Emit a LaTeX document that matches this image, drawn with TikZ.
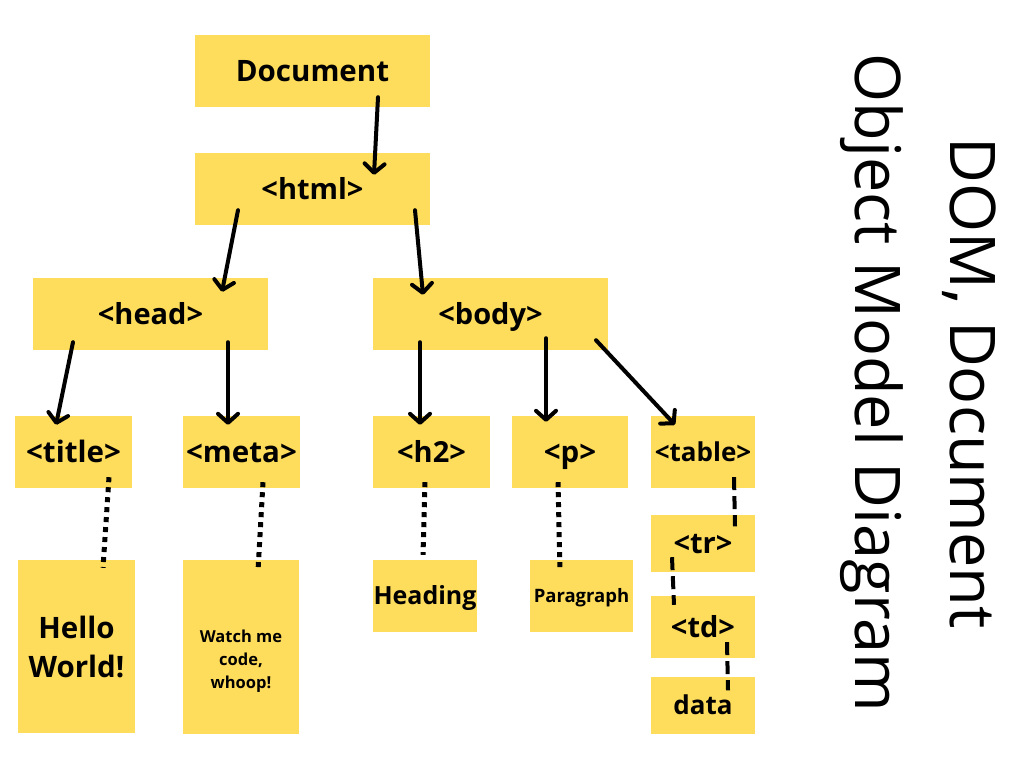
\documentclass[tikz,border=0pt]{standalone}
\usepackage{fontspec}
\setmainfont{Open Sans}
\usetikzlibrary{arrows.meta}
\definecolor{boxyellow}{RGB}{255,221,92}
\tikzset{
  plainbox/.style={fill=boxyellow, draw=none, inner sep=0pt, align=center},
  fs/.style={font=\bfseries\fontsize{#1}{#1}\selectfont},
  th/.style={text height=#1pt, text depth=0pt},
  box/.style={plainbox, fs=29.5, th=21},
  arr/.style={line width=4pt, line cap=round, -{Straight Barb[length=9pt,width=20pt,line cap=round,line join=round]}},
  dots/.style={line width=5pt, dash pattern=on 5pt off 5pt},
  dashes/.style={line width=4pt, dash pattern=on 13pt off 6pt},
}
\begin{document}
\begin{tikzpicture}[x=1pt,y=-1pt]
\useasboundingbox (0,0) rectangle (1024,768);
\node[box, minimum width=235pt, minimum height=72pt] (doc) at (312.5,71) {Document};
\node[box, fs=29, th=20.7, minimum width=235pt, minimum height=72pt] (html) at (312.5,189) {<html>};
\node[box, fs=29, th=20.7, minimum width=235pt, minimum height=72pt] (head) at (150.5,314) {<head>};
\node[box, fs=29, th=20.7, minimum width=235pt, minimum height=72pt] (body) at (490.5,314) {<body>};
\node[box, minimum width=117pt, minimum height=72pt] (title) at (73.5,452) {<title>};
\node[box, minimum width=117pt, minimum height=72pt] (meta) at (241.5,452) {<meta>};
\node[box, fs=29, th=20.7, minimum width=117pt, minimum height=72pt] (h2) at (431.5,452) {<h2>};
\node[box, minimum width=116pt, minimum height=72pt] (p) at (570,452) {<p>};
\node[box, fs=26, th=18.6, minimum width=104pt, minimum height=72pt] (table) at (703,452) {<table>};
\node[box, fs=29, th=20.7, minimum width=104pt, minimum height=57pt] (tr) at (703,543) {<tr>};
\node[box, fs=29, th=20.7, minimum width=104pt, minimum height=62pt] (td) at (703,627) {<td>};
\node[box, fs=26, th=18.6, minimum width=104pt, minimum height=57pt] (data) at (703,705) {data};
\node[plainbox, font=\bfseries\fontsize{29.5}{39}\selectfont, minimum width=117pt, minimum height=173pt] (hello) at (76.5,646.5) {Hello\\World!};
\node[plainbox, minimum width=116pt, minimum height=174pt,
  label={[font=\bfseries\fontsize{16.5}{23}\selectfont, align=center, yshift=-14pt]center:Watch me\\code,\\whoop!}] (watch) at (241,647) {};
\node[box, fs=25, th=17.9, minimum width=104pt, minimum height=72pt] (heading) at (425,596) {Heading};
\node[box, fs=18.5, th=13.2, minimum width=103pt, minimum height=72pt] (para) at (581.5,596) {Paragraph};

\node[rotate=-90, align=center, font=\fontsize{63}{95}\selectfont] (ttl) at (918,383) {DOM, Document\\Object Model Diagram};

\draw[arr] ([shift={(65.5,-10)}]doc.south) -- ([shift={(61.5,22)}]html.north);
\draw[arr] ([shift={(-74.5,-15)}]html.south) -- ([shift={(71.5,14)}]head.north);
\draw[arr] ([shift={(102.5,-15)}]html.south) -- ([shift={(-67.5,17)}]body.north);
\draw[arr] ([shift={(-77.5,-8)}]head.south) -- ([shift={(-17.5,9)}]title.north);
\draw[arr] ([shift={(77.5,-8)}]head.south) -- ([shift={(-13.5,9)}]meta.north);
\draw[arr] ([shift={(-70.5,-8)}]body.south) -- ([shift={(-11.5,9)}]h2.north);
\draw[arr] ([shift={(55.5,-12)}]body.south) -- ([shift={(-24,6)}]p.north);
\draw[arr] ([shift={(105.5,-10)}]body.south) -- ([shift={(-28,9)}]table.north);

\draw[dots] ([shift={(35.5,-11)}]title.south) -- ([shift={(26.5,8)}]hello.north);
\draw[dots] ([shift={(21.5,-6)}]meta.south) -- ([shift={(17,11)}]watch.north);
\draw[dots] ([shift={(-6.5,-6)}]h2.south) -- ([shift={(-2,-5)}]heading.north);
\draw[dots] ([shift={(-12,-6)}]p.south) -- ([shift={(-21.5,12)}]para.north);

\draw[dashes] ([shift={(31,-11)}]table.south) -- ([shift={(32,12)}]tr.north);
\draw[dashes] ([shift={(-31,-14.5)}]tr.south) -- ([shift={(-29,9)}]td.north);
\draw[dashes] ([shift={(24,-16)}]td.south) -- ([shift={(25,14)}]data.north);
\end{tikzpicture}
\end{document}
